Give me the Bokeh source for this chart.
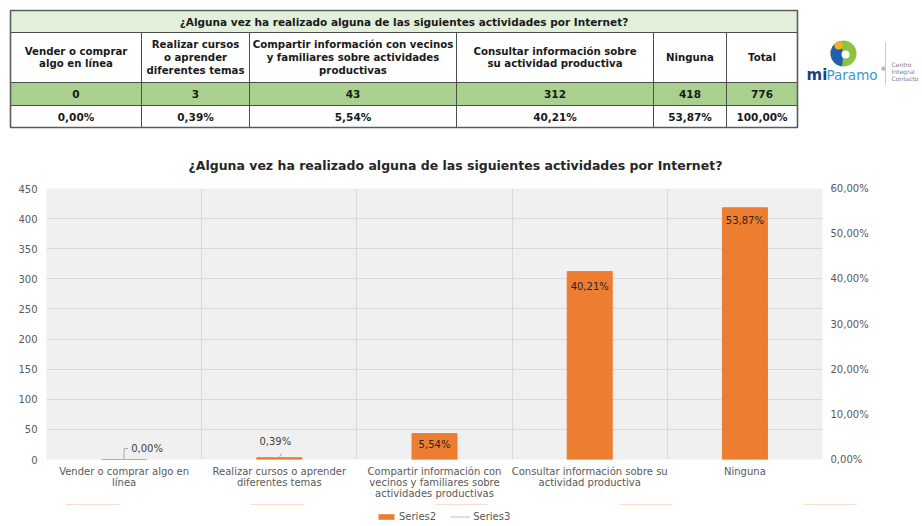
from bokeh.plotting import figure
from bokeh.models import (Range1d, LinearAxis, FixedTicker, Legend, LegendItem,
                          ColumnDataSource)
from bokeh.layouts import column
from bokeh.embed import file_html
from bokeh.resources import INLINE
from bokeh.core.properties import value

# ---------------- data ----------------
title = "¿Alguna vez ha realizado alguna de las siguientes actividades por Internet?"
categories = ["Vender o comprar algo en línea",
              "Realizar cursos o aprender diferentes temas",
              "Compartir información con vecinos y familiares sobre actividades productivas",
              "Consultar información sobre su actividad productiva",
              "Ninguna"]
axis_labels = ["Vender o comprar algo en\nlínea",
               "Realizar cursos o aprender\ndiferentes temas",
               "Compartir información con\nvecinos y familiares sobre\nactividades productivas",
               "Consultar información sobre su\nactividad productiva",
               "Ninguna"]
counts = [0, 3, 43, 312, 418]
total = 776
percents = [0.00, 0.39, 5.54, 40.21, 53.87]
pct_labels = ["0,00%", "0,39%", "5,54%", "40,21%", "53,87%"]

table_headers = ["Vender o comprar\nalgo en línea",
                 "Realizar cursos\no aprender\ndiferentes temas",
                 "Compartir información con vecinos\ny familiares sobre actividades\nproductivas",
                 "Consultar información sobre\nsu actividad productiva",
                 "Ninguna", "Total"]
table_counts = ["0", "3", "43", "312", "418", "776"]
table_pcts = ["0,00%", "0,39%", "5,54%", "40,21%", "53,87%", "100,00%"]

left_ticks = [0, 50, 100, 150, 200, 250, 300, 350, 400, 450]
right_ticks = [0, 10, 20, 30, 40, 50, 60]
right_tick_labels = ["0,00%", "10,00%", "20,00%", "30,00%", "40,00%", "50,00%", "60,00%"]
legend_labels = ["Series2", "Series3"]

# ---------------- styles ----------------
FONT = "DejaVu Sans"
ORANGE = "#ED7D31"
S3_COLOR = "#a9c1dd"
GREY_TXT = "#595959"
GRID = "#d9d9d9"

# ---------------- top: table + logo ----------------
W = 922
TOP_H = 140
col_edges = [10, 141, 249, 456, 653, 726, 797]
row_edges = [10, 32, 82, 105, 127]

t = figure(width=W, height=TOP_H, x_range=Range1d(0, W), y_range=Range1d(TOP_H, 0),
           output_backend="svg", toolbar_location=None, min_border=0,
           outline_line_color=None, frame_align=False)
t.axis.visible = False
t.grid.visible = False

L, R = col_edges[0], col_edges[-1]
t.quad(left=[L, L, L, L], right=[R, R, R, R],
       top=row_edges[:-1], bottom=row_edges[1:],
       fill_color=["#e2efda", "#ffffff", "#a9d08e", "#ffffff"], line_color=None)
t.segment(x0=[L] * 3, x1=[R] * 3, y0=row_edges[1:-1], y1=row_edges[1:-1],
          line_color="#4d4d4d", line_width=1)
inner = col_edges[1:-1]
t.segment(x0=inner, x1=inner, y0=[row_edges[1]] * len(inner), y1=[row_edges[-1]] * len(inner),
          line_color="#4d4d4d", line_width=1)
t.quad(left=[L], right=[R], top=[row_edges[0]], bottom=[row_edges[-1]],
       fill_color=None, line_color="#5b5b5b", line_width=1.6)

xc_tab = [(a + b) / 2 for a, b in zip(col_edges[:-1], col_edges[1:])]
yc_rows = [(a + b) / 2 for a, b in zip(row_edges[:-1], row_edges[1:])]

t.text(x=[(L + R) / 2], y=[yc_rows[0]], text=[title], text_align="center",
       text_baseline="middle", text_font=value(FONT), text_font_style="bold",
       text_font_size="10.5px", text_color="#1a1a1a")
t.text(x=xc_tab, y=[yc_rows[1]] * 6, text=table_headers, text_align="center",
       text_baseline="middle", text_font=value(FONT), text_font_style="bold",
       text_font_size="10.2px", text_color="#1a1a1a", text_line_height=1.15)
t.text(x=xc_tab, y=[yc_rows[2]] * 6, text=table_counts, text_align="center",
       text_baseline="middle", text_font=value(FONT), text_font_style="bold",
       text_font_size="10.5px", text_color="#1a1a1a")
t.text(x=xc_tab, y=[yc_rows[3]] * 6, text=table_pcts, text_align="center",
       text_baseline="middle", text_font=value(FONT), text_font_style="bold",
       text_font_size="10.5px", text_color="#1a1a1a")

# logo (approximate)
lx, ly, lr = 843, 53, 13
t.circle(x=[lx], y=[ly], radius=lr, fill_color="#8cc43f", line_color=None)
t.wedge(x=[lx], y=[ly], radius=lr, start_angle=1.9, end_angle=4.6,
        fill_color="#1f5fae", line_color=None)
t.circle(x=[lx - 5], y=[ly - 8], radius=4, fill_color="#f3b22a", line_color=None)
t.circle(x=[lx + 2], y=[ly + 1], radius=4, fill_color="#ffffff", line_color=None)
t.text(x=[806], y=[74], text=["mi"], text_baseline="middle", text_font=value(FONT),
       text_font_style="bold", text_font_size="15px", text_color="#1c3f78")
t.text(x=[826], y=[74], text=["Paramo"], text_baseline="middle", text_font=value(FONT),
       text_font_size="13.5px", text_color="#3b97d3")
t.text(x=[880], y=[68], text=["®"], text_baseline="middle", text_font=value(FONT),
       text_font_size="6px", text_color="#555555")
t.segment(x0=[885], x1=[885], y0=[42], y1=[84], line_color="#c8c8c8", line_width=1)
t.text(x=[891, 891, 891], y=[64, 71, 78], text=["Centro", "Integral", "Contacto"],
       text_baseline="middle", text_font=value(FONT), text_font_size="6px",
       text_color="#808080")

# ---------------- middle: chart ----------------
xc = [i + 0.5 for i in range(len(categories))]
src = ColumnDataSource(dict(x=xc, count=counts, pct=percents, label=pct_labels))

CH_H = 364
p = figure(width=W, height=CH_H, x_range=Range1d(0, len(categories)), y_range=Range1d(0, 450),
           output_backend="svg", toolbar_location=None, frame_align=False,
           min_border_left=46, min_border_right=100, min_border_top=47, min_border_bottom=45,
           background_fill_color="#f0f0f0", border_fill_color="#ffffff",
           outline_line_color=None)
p.extra_y_ranges = {"pct": Range1d(0, 60)}

p.title.text = title
p.title.align = "left"
p.title.offset = 142
p.title.standoff = 31
p.title.text_font = FONT
p.title.text_font_style = "bold"
p.title.text_font_size = "12.5px"
p.title.text_color = "#262626"

p.yaxis.ticker = FixedTicker(ticks=left_ticks)
p.yaxis.axis_line_color = None
p.yaxis.major_tick_line_color = None
p.yaxis.major_tick_out = 0
p.yaxis.minor_tick_line_color = None
p.yaxis.major_label_standoff = 9
p.yaxis.major_label_text_font = FONT
p.yaxis.major_label_text_font_size = "10px"
p.yaxis.major_label_text_color = GREY_TXT

ra = LinearAxis(y_range_name="pct", ticker=FixedTicker(ticks=right_ticks),
                major_label_overrides={k: v for k, v in zip(right_ticks, right_tick_labels)})
ra.axis_line_color = None
ra.major_tick_line_color = None
ra.major_tick_out = 0
ra.minor_tick_line_color = None
ra.major_label_standoff = 8
ra.major_label_text_font = FONT
ra.major_label_text_font_size = "10px"
ra.major_label_text_color = GREY_TXT
p.add_layout(ra, "right")

p.xaxis.ticker = FixedTicker(ticks=xc)
p.xaxis.major_label_overrides = {k: v for k, v in zip(xc, axis_labels)}
p.xaxis.axis_line_color = None
p.xaxis.major_tick_line_color = None
p.xaxis.major_tick_out = 0
p.xaxis.minor_tick_line_color = None
p.xaxis.major_label_standoff = 6
p.xaxis.major_label_text_font = FONT
p.xaxis.major_label_text_font_size = "10px"
p.xaxis.major_label_text_color = GREY_TXT
p.xaxis.major_label_text_line_height = 1.03

p.xgrid.ticker = FixedTicker(ticks=list(range(len(categories) + 1)))
p.xgrid.grid_line_color = GRID
p.ygrid.grid_line_color = GRID

p.vbar(x="x", top="count", width=0.29, source=src, fill_color=ORANGE, line_color=ORANGE)

lab_src = ColumnDataSource(dict(x=xc, pct=percents, label=pct_labels,
                                dx=[23, -4, 0, 0, 0], dy=[-11, -16, 10, 9, 4],
                                col=["#404040", "#404040", "#262626", "#262626", "#262626"]))
p.text(x="x", y="pct", text="label", source=lab_src, y_range_name="pct",
       x_offset="dx", y_offset="dy", text_align="center", text_baseline="middle",
       text_font=value(FONT), text_font_size="10px", text_color="col")

px_x = 1 / 155.2
px_y = 450 / 272
p.line(x=[xc[0], xc[0], xc[0] + 4 * px_x], y=[counts[0], counts[0] + 11 * px_y, counts[0] + 11 * px_y],
       line_color="#a6a6a6", line_width=1)
p.line(x=[xc[1], xc[1] + 2 * px_x], y=[counts[1], counts[1] + 4 * px_y],
       line_color="#a6a6a6", line_width=1)

# ---------------- bottom: legend strip ----------------
# The two series are drawn here far outside the visible range; only their legend shows.
lg = figure(width=W, height=526 - TOP_H - CH_H, x_range=Range1d(0, len(categories)),
            y_range=Range1d(-1000, -990), output_backend="svg", toolbar_location=None,
            min_border=0, outline_line_color=None, frame_align=False)
lg.axis.visible = False
lg.grid.visible = False
s2r = lg.vbar(x=xc, top=counts, width=0.29, fill_color=ORANGE, line_color=None)
s3r = lg.line(x=xc, y=percents, line_color=S3_COLOR, line_width=1)
legend = Legend(items=[LegendItem(label=legend_labels[0], renderers=[s2r]),
                       LegendItem(label=legend_labels[1], renderers=[s3r])],
                orientation="horizontal", location=(376, 4),
                border_line_color=None, background_fill_alpha=0,
                label_text_font=FONT, label_text_font_size="10px",
                label_text_color=GREY_TXT, glyph_width=20, glyph_height=7,
                label_height=12, padding=2, margin=0, spacing=14, label_standoff=3)
lg.add_layout(legend, "center")

layout = column(t, p, lg, spacing=0)
open("out.html", "w").write(file_html(layout, INLINE))
